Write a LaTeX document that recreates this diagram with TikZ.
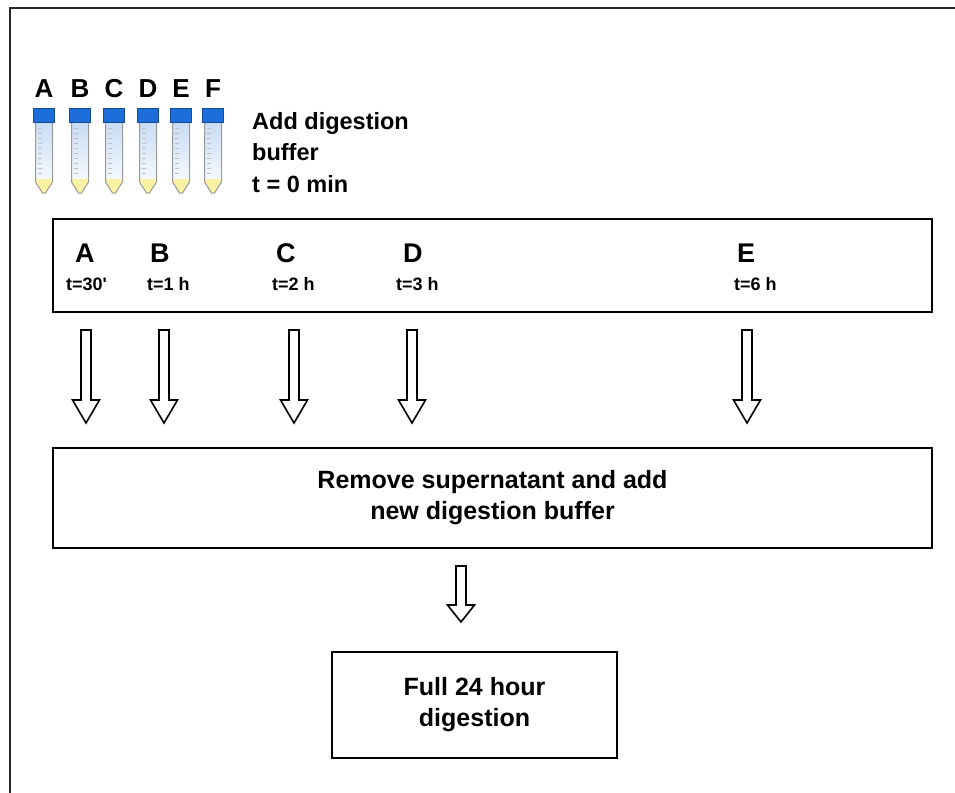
\documentclass[tikz,border=0pt]{standalone}
\usepackage{fontspec}
\setmainfont{Liberation Sans}
\definecolor{capblue}{RGB}{30,110,218}
\definecolor{capdark}{RGB}{20,75,150}
\definecolor{tubeblue}{RGB}{200,220,245}
\definecolor{liquid}{RGB}{248,242,165}
\tikzset{
  boxstyle/.style={draw=black, line width=2pt, fill=white, inner sep=0pt},
  bigtxt/.style={font=\bfseries\fontsize{25}{31}\selectfont, align=center},
  letter/.style={font=\bfseries\fontsize{27}{30}\selectfont, anchor=base west, inner sep=0pt},
  toplet/.style={font=\bfseries\fontsize{26}{30}\selectfont, anchor=base, inner sep=0pt},
  timetxt/.style={font=\bfseries\fontsize{18}{20}\selectfont, anchor=base west, inner sep=0pt},
  tube/.pic={
    \shade[top color=tubeblue, bottom color=white] (-8.5,0) -- (8.5,0) -- (8.5,60) -- (1.5,71) -- (-1.5,71) -- (-8.5,60) -- cycle;
    \fill[liquid] (-8.5,57) -- (8.5,57) -- (8.5,60) -- (1.5,71) -- (-1.5,71) -- (-8.5,60) -- cycle;
    \draw[gray!80, line width=1pt, line join=round] (-8.5,0) -- (-8.5,60) -- (-1.5,71) -- (1.5,71) -- (8.5,60) -- (8.5,0);
    \foreach \k in {0,...,9} \draw[gray!50, line width=0.6pt] (-6,6+5*\k) -- (-2.5,6+5*\k);
    \filldraw[fill=capblue, draw=capdark, line width=0.6pt] (-10.5,-14) rectangle (10.5,0);
  },
  longarrow/.pic={
    \draw[line width=1.6pt, line join=miter, fill=white] (-5,0) -- (5,0) -- (5,70) -- (13.5,70) -- (0,93) -- (-13.5,70) -- (-5,70) -- cycle;
  },
  shortarrow/.pic={
    \draw[line width=1.6pt, line join=miter, fill=white] (-5,0) -- (5,0) -- (5,39) -- (13.5,39) -- (0,56) -- (-13.5,39) -- (-5,39) -- cycle;
  }
}
\begin{document}
\begin{tikzpicture}[x=1pt,y=-1pt]
\clip (0,0) rectangle (955,792);
\fill[white] (0,0) rectangle (955,792);
% outer frame (runs off the picture at right and bottom)
\draw[line width=1.6pt, black!85] (10,820) -- (10,8) -- (980,8);

% tubes and letters
\foreach \x/\l in {44/A,80/B,114/C,148/D,181/E,213/F}{
  \pic at (\x,122) {tube};
  \node[toplet] (L\l) at (\x,97) {\l};
}
\node[font=\bfseries\fontsize{23.5}{31.5}\selectfont, anchor=north west, align=left, inner sep=0pt] (add) at (252,112) {Add digestion\\buffer\\t = 0 min};

% time point box
\node[boxstyle, minimum width=879pt, minimum height=93pt] (box1) at (492.5,265) {};
\node[letter] (bA) at (75,262) {A};
\node[letter] (bB) at (150,262) {B};
\node[letter] (bC) at (276,262) {C};
\node[letter] (bD) at (403,262) {D};
\node[letter] (bE) at (737,262) {E};
\node[timetxt] (tA) at (66,290) {t=30\textquotesingle};
\node[timetxt] (tB) at (147,290) {t=1 h};
\node[timetxt] (tC) at (272,290) {t=2 h};
\node[timetxt] (tD) at (396,290) {t=3 h};
\node[timetxt] (tE) at (734,290) {t=6 h};

% arrows
\foreach \n/\x in {A/86,B/164,C/294,D/412,E/747}{
  \coordinate (ar\n) at (\x,330);
  \pic at (ar\n) {longarrow};
}

% remove supernatant box
\node[boxstyle, minimum width=879pt, minimum height=100pt, bigtxt] (box2) at (492.5,498) {Remove supernatant and add\\new digestion buffer};

\coordinate (arF) at (461,566);
\pic at (arF) {shortarrow};

% final box
\node[boxstyle, minimum width=285pt, minimum height=106pt, bigtxt] (box3) at (474.5,705) {Full 24 hour\\digestion};
\end{tikzpicture}
\end{document}
